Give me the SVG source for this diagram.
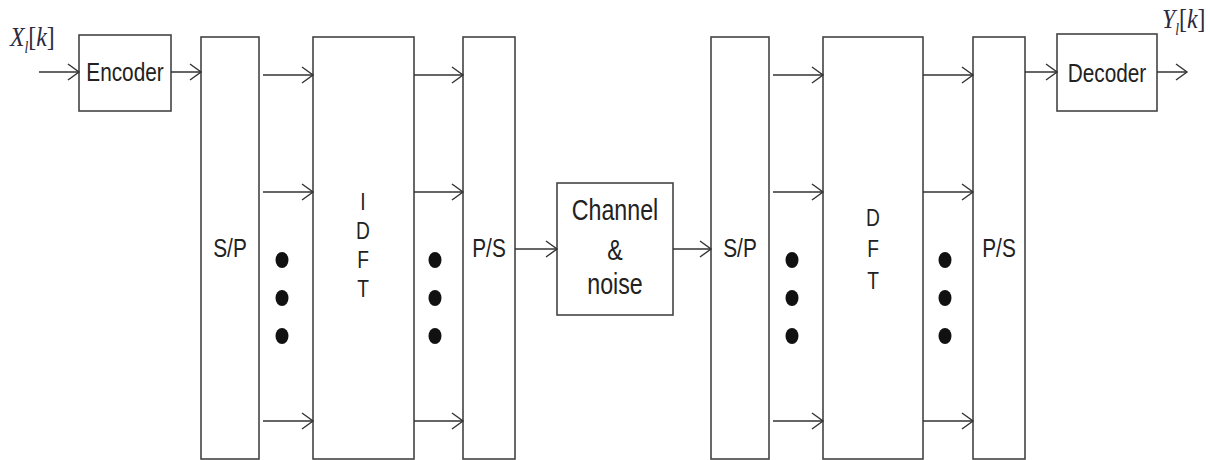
<svg xmlns="http://www.w3.org/2000/svg" width="1210" height="460" viewBox="0 0 1210 460">
<style>
.box{fill:#fff;stroke:#444;stroke-width:1.6}
.lbl{font-family:"Liberation Sans",Arial,sans-serif;font-size:26px;fill:#222;text-anchor:middle}
.mid{font-size:24px}
.big{font-size:29px}
.math{font-family:"Liberation Serif","Times New Roman",serif;font-style:italic;font-size:28px;fill:#2a2a40}
.wire{stroke:#333;stroke-width:1.5;fill:none;marker-end:url(#ah)}
.dot{fill:#111}
</style>
<defs>
<marker id="ah" markerWidth="14" markerHeight="20" refX="12" refY="10" orient="auto" markerUnits="userSpaceOnUse">
<path d="M1,2 L12,10 L1,18" fill="none" stroke="#333" stroke-width="1.4"/>
</marker>
</defs>
<rect width="1210" height="460" fill="#fff"/>
<g id="labels">
<text class="math" transform="translate(10 46) scale(0.85 1)">X<tspan font-size="16" dy="7">l</tspan><tspan dy="-7" font-style="normal">[</tspan>k<tspan font-style="normal">]</tspan></text>
<text class="math" transform="translate(1162 28) scale(0.85 1)">Y<tspan font-size="16" dy="7">l</tspan><tspan dy="-7" font-style="normal">[</tspan>k<tspan font-style="normal">]</tspan></text>
</g>
<g id="encoder"><rect class="box" x="79" y="35" width="92" height="76"/><text class="lbl" transform="translate(125 81) scale(0.8 1)">Encoder</text></g>
<g id="sp1"><rect class="box" x="201" y="37" width="58" height="422"/><text class="lbl" transform="translate(230 257) scale(0.8 1)">S/P</text></g>
<g id="idft"><rect class="box" x="313" y="37" width="101" height="422"/>
<text class="lbl mid" transform="translate(363 210) scale(0.8 1)">I</text>
<text class="lbl mid" transform="translate(363 239) scale(0.8 1)">D</text>
<text class="lbl mid" transform="translate(363 268) scale(0.8 1)">F</text>
<text class="lbl mid" transform="translate(363 297) scale(0.8 1)">T</text></g>
<g id="ps1"><rect class="box" x="463" y="37" width="52" height="422"/><text class="lbl" transform="translate(489 257) scale(0.8 1)">P/S</text></g>
<g id="channel"><rect class="box" x="557" y="183" width="116" height="132"/>
<text class="lbl big" transform="translate(615 220) scale(0.8 1)">Channel</text>
<text class="lbl big" transform="translate(615 260) scale(0.8 1)">&amp;</text>
<text class="lbl big" transform="translate(615 294) scale(0.8 1)">noise</text></g>
<g id="sp2"><rect class="box" x="711" y="37" width="58" height="422"/><text class="lbl" transform="translate(740 257) scale(0.8 1)">S/P</text></g>
<g id="dft"><rect class="box" x="823" y="37" width="100" height="422"/>
<text class="lbl mid" transform="translate(873 226) scale(0.8 1)">D</text>
<text class="lbl mid" transform="translate(873 257) scale(0.8 1)">F</text>
<text class="lbl mid" transform="translate(873 289) scale(0.8 1)">T</text></g>
<g id="ps2"><rect class="box" x="973" y="37" width="52" height="422"/><text class="lbl" transform="translate(999 257) scale(0.8 1)">P/S</text></g>
<g id="decoder"><rect class="box" x="1057" y="34" width="100" height="77"/><text class="lbl" transform="translate(1107 82) scale(0.8 1)">Decoder</text></g>
<g id="dots">
<ellipse class="dot" cx="282" cy="260" rx="6.5" ry="8"/><ellipse class="dot" cx="282" cy="298" rx="6.5" ry="8"/><ellipse class="dot" cx="282" cy="336" rx="6.5" ry="8"/>
<ellipse class="dot" cx="435" cy="260" rx="6.5" ry="8"/><ellipse class="dot" cx="435" cy="298" rx="6.5" ry="8"/><ellipse class="dot" cx="435" cy="336" rx="6.5" ry="8"/>
<ellipse class="dot" cx="792" cy="260" rx="6.5" ry="8"/><ellipse class="dot" cx="792" cy="298" rx="6.5" ry="8"/><ellipse class="dot" cx="792" cy="336" rx="6.5" ry="8"/>
<ellipse class="dot" cx="945" cy="260" rx="6.5" ry="8"/><ellipse class="dot" cx="945" cy="298" rx="6.5" ry="8"/><ellipse class="dot" cx="945" cy="336" rx="6.5" ry="8"/>
</g>
<g id="connectors">
<line class="wire" x1="39" y1="72" x2="79" y2="72"/>
<line class="wire" x1="171" y1="72" x2="201" y2="72"/>
<line class="wire" x1="263" y1="75" x2="313" y2="75"/>
<line class="wire" x1="263" y1="192" x2="313" y2="192"/>
<line class="wire" x1="263" y1="421" x2="313" y2="421"/>
<line class="wire" x1="414" y1="75" x2="463" y2="75"/>
<line class="wire" x1="414" y1="192" x2="463" y2="192"/>
<line class="wire" x1="414" y1="421" x2="463" y2="421"/>
<line class="wire" x1="515" y1="249" x2="557" y2="249"/>
<line class="wire" x1="673" y1="249" x2="711" y2="249"/>
<line class="wire" x1="773" y1="75" x2="823" y2="75"/>
<line class="wire" x1="773" y1="192" x2="823" y2="192"/>
<line class="wire" x1="773" y1="421" x2="823" y2="421"/>
<line class="wire" x1="923" y1="75" x2="973" y2="75"/>
<line class="wire" x1="923" y1="192" x2="973" y2="192"/>
<line class="wire" x1="923" y1="421" x2="973" y2="421"/>
<line class="wire" x1="1025" y1="72" x2="1057" y2="72"/>
<line class="wire" x1="1157" y1="72" x2="1187" y2="72"/>
</g>
</svg>
